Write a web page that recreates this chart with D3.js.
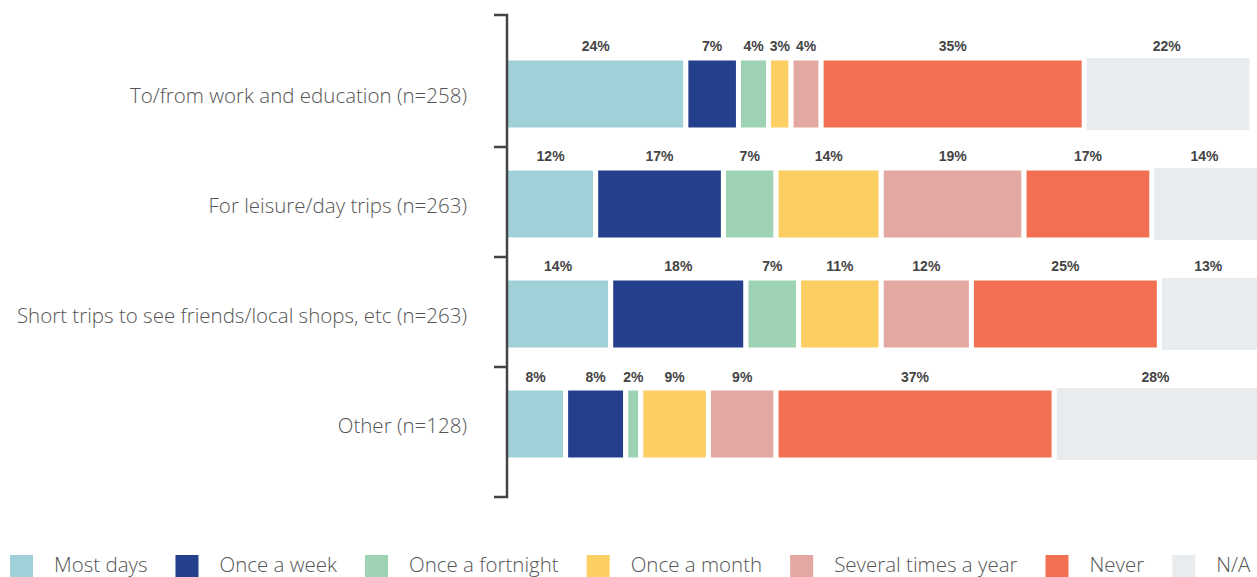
<!DOCTYPE html>
<html>
<head>
<meta charset="utf-8">
<script src="https://cdn.jsdelivr.net/npm/d3@7"></script>
<style>
  html, body { margin: 0; padding: 0; background: #fff; overflow: hidden; }
  svg { display: block; }
  .cat { font-family: "Open Sans", "Liberation Sans", Arial, sans-serif; font-weight: 300; fill: #555; }
  .val { font-family: "Liberation Sans", Arial, sans-serif; font-weight: 700; fill: #444; }
  .leg { font-family: "Open Sans", "Liberation Sans", Arial, sans-serif; font-weight: 300; fill: #555; }
</style>
</head>
<body>
<svg id="chart" width="1257" height="577"></svg>
<script>
// Journey purposes and how often each is made
const categories = [
  "To/from work and education (n=258)",
  "For leisure/day trips (n=263)",
  "Short trips to see friends/local shops, etc (n=263)",
  "Other (n=128)"
];
const frequencies = ["Most days", "Once a week", "Once a fortnight", "Once a month", "Several times a year", "Never", "N/A"];

// Share of respondents (%) per purpose, one array per frequency
const mostDays          = [24, 12, 14, 8];
const onceAWeek         = [7, 17, 18, 8];
const onceAFortnight    = [4, 7, 7, 2];
const onceAMonth        = [3, 14, 11, 9];
const severalTimesAYear = [4, 19, 12, 9];
const never             = [35, 17, 25, 37];
const notApplicable     = [22, 14, 13, 28];

const colors = ["#a0d1d8", "#243f8c", "#9dd3b3", "#fdce62", "#e2a8a1", "#f27052", "#e9ecef"];

const series = [mostDays, onceAWeek, onceAFortnight, onceAMonth, severalTimesAYear, never, notApplicable];
const rows = categories.map((c, i) => {
  const r = { category: c };
  frequencies.forEach((f, k) => { r[f] = series[k][i]; });
  return r;
});

const svg = d3.select("#chart");

const x = d3.scaleLinear().domain([0, 100]).range([505.5, 1257]);
const y = d3.scaleBand()
  .domain(categories)
  .range([15, 497])
  .paddingInner(0.34545)
  .paddingOuter(0.3636)
  .align(0.5375);

const color = d3.scaleOrdinal().domain(frequencies).range(colors);

const stacked = d3.stack().keys(frequencies)(rows);

// N/A segments go first so the white gaps of the coloured segments sit on top
const order = [6, 0, 1, 2, 3, 4, 5];
const layers = svg.append("g");
order.forEach(k => {
  const layer = stacked[k];
  const isNA = frequencies[k] === "N/A";
  layers.append("g")
    .selectAll("rect")
    .data(layer)
    .join("rect")
    .attr("x", d => x(d[0]))
    .attr("y", d => y(d.data.category))
    .attr("width", d => x(d[1]) - x(d[0]))
    .attr("height", y.bandwidth())
    .attr("fill", color(frequencies[k]))
    .attr("stroke", isNA ? "none" : "#fff")
    .attr("stroke-width", 5);
});

// Value labels above each segment
const labels = svg.append("g");
stacked.forEach(layer => {
  labels.append("g")
    .selectAll("text")
    .data(layer)
    .join("text")
    .attr("class", "val")
    .attr("x", d => (x(d[0]) + Math.min(x(d[1]), 1257)) / 2)
    .attr("y", d => y(d.data.category) - 6.5)
    .attr("text-anchor", "middle")
    .attr("font-size", 14)
    .text(d => (d[1] - d[0]) + "%");
});

// Category axis: bracket with ticks between the bands
const axisX = 507;
const tickLen = 13;
const axisG = svg.append("g");
const [r0, r1] = y.range();
axisG.append("path")
  .attr("d", `M${axisX - tickLen},${r0}H${axisX}V${r1}H${axisX - tickLen}`)
  .attr("fill", "none")
  .attr("stroke", "#444")
  .attr("stroke-width", 2.5);
const gapHalf = (y.step() - y.bandwidth()) / 2;
axisG.selectAll("line.tick")
  .data(categories.slice(1))
  .join("line")
  .attr("class", "tick")
  .attr("x1", axisX - tickLen)
  .attr("x2", axisX)
  .attr("y1", d => y(d) - gapHalf - 2)
  .attr("y2", d => y(d) - gapHalf - 2)
  .attr("stroke", "#444")
  .attr("stroke-width", 2.5);

axisG.selectAll("text.cat")
  .data(categories)
  .join("text")
  .attr("class", "cat")
  .attr("x", 467)
  .attr("y", d => y(d) + y.bandwidth() / 2 + 2)
  .attr("dy", "0.35em")
  .attr("text-anchor", "end")
  .attr("font-size", 20.5)
  .text(d => d);

// Legend along the bottom edge
const legend = svg.append("g");
let lx = 10;
frequencies.forEach(f => {
  legend.append("rect")
    .attr("x", lx)
    .attr("y", 555)
    .attr("width", 23)
    .attr("height", 24)
    .attr("fill", color(f));
  const t = legend.append("text")
    .attr("class", "leg")
    .attr("x", lx + 44)
    .attr("y", 572)
    .attr("font-size", 20.5)
    .text(f);
  lx += 44 + t.node().getComputedTextLength() + 28;
});
</script>
</body>
</html>
